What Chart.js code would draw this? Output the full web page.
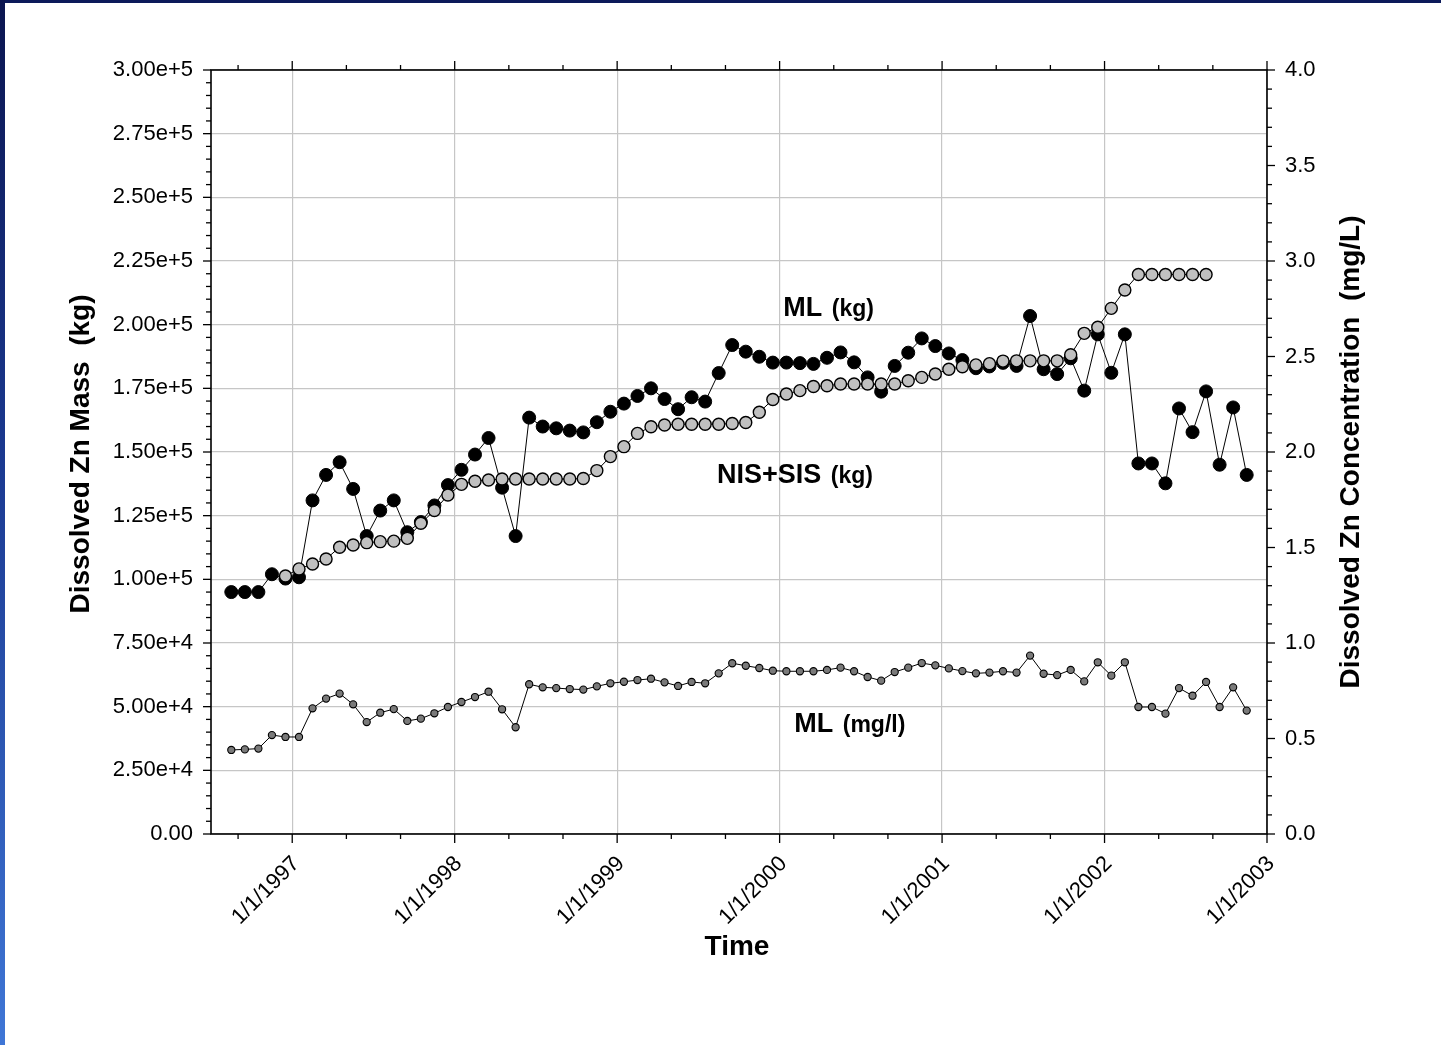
<!DOCTYPE html>
<html>
<head>
<meta charset="utf-8">
<script src="https://cdn.jsdelivr.net/npm/chart.js@4.4.1/dist/chart.umd.min.js"></script>
<style>
  html, body { margin: 0; padding: 0; background: #ffffff; overflow: hidden; }
  #wrap { position: relative; width: 1441px; height: 1045px; background: #ffffff; }
  #topbar { position: absolute; left: 0; top: 0; width: 1441px; height: 3px; background: #0c1a5a; }
  #leftbar { position: absolute; left: 0; top: 0; width: 5px; height: 1045px;
             background: linear-gradient(to bottom, #0b1550 0%, #1b3a92 45%, #3f76d6 100%); }
  #c { position: absolute; left: 0; top: 0; }
</style>
</head>
<body>
<div id="wrap">
  <div id="topbar"></div>
  <div id="leftbar"></div>
  <canvas id="c" width="1441" height="1045"></canvas>
</div>
<script>
// ---------------- DATA ----------------
const months = [
  '1996-08','1996-09','1996-10','1996-11','1996-12',
  '1997-01','1997-02','1997-03','1997-04','1997-05','1997-06','1997-07','1997-08','1997-09','1997-10','1997-11','1997-12',
  '1998-01','1998-02','1998-03','1998-04','1998-05','1998-06','1998-07','1998-08','1998-09','1998-10','1998-11','1998-12',
  '1999-01','1999-02','1999-03','1999-04','1999-05','1999-06','1999-07','1999-08','1999-09','1999-10','1999-11','1999-12',
  '2000-01','2000-02','2000-03','2000-04','2000-05','2000-06','2000-07','2000-08','2000-09','2000-10','2000-11','2000-12',
  '2001-01','2001-02','2001-03','2001-04','2001-05','2001-06','2001-07','2001-08','2001-09','2001-10','2001-11','2001-12',
  '2002-01','2002-02','2002-03','2002-04','2002-05','2002-06','2002-07','2002-08','2002-09','2002-10','2002-11'
];

// ML dissolved Zn mass (kg)
const mlKg = [
  95000, 95000, 95000, 102000, 100300,
  100800, 131000, 141000, 146000, 135500, 117000, 127000, 131000, 118500, 122500, 129000, 137000,
  143000, 149000, 155500, 136000, 117000, 163500, 160000, 159300, 158400, 157700, 161700, 165800,
  169000, 172000, 175000, 170800, 166800, 171500, 169800, 181000, 192000, 189400, 187400, 185100,
  185100, 184900, 184600, 187000, 189100, 185200, 179300, 173700, 183800, 189000, 194600, 191600,
  188700, 186100, 182900, 183600, 185000, 183800, 203400, 182500, 180600, 186800, 174100, 196200,
  181100, 196200, 145500, 145500, 137700, 167100, 157800, 173800, 145000, 167500, 141000
];

// NIS+SIS dissolved Zn mass (kg)  (Dec 1996 - Aug 2002)
const nisSisKg = [
  null, null, null, null, 101300,
  104100, 106000, 108000, 112600, 113500, 114400, 114800, 115000, 116100, 122000, 127000, 133100,
  137300, 138500, 139000, 139400, 139400, 139400, 139400, 139400, 139400, 139600, 142700, 148200,
  152100, 157300, 159900, 160600, 160900, 160900, 160900, 160900, 161200, 161600, 165600, 170600,
  172800, 174100, 175700, 176000, 176700, 176700, 176700, 176700, 176700, 178000, 179300, 180600,
  182500, 183500, 184200, 184700, 185700, 185800, 185800, 185800, 185800, 188200, 196600, 199000,
  206400, 213600, 219700, 219700, 219700, 219700, 219700, 219700, null, null, null
];

// ML dissolved Zn concentration (mg/l)
const mlMgL = [
  0.440, 0.443, 0.447, 0.518, 0.508,
  0.508, 0.658, 0.709, 0.735, 0.679, 0.586, 0.635, 0.654, 0.592, 0.604, 0.632, 0.665,
  0.691, 0.717, 0.745, 0.653, 0.559, 0.784, 0.768, 0.764, 0.759, 0.756, 0.773, 0.789,
  0.797, 0.806, 0.813, 0.794, 0.775, 0.796, 0.789, 0.841, 0.894, 0.881, 0.869, 0.855,
  0.852, 0.852, 0.852, 0.859, 0.871, 0.852, 0.822, 0.803, 0.848, 0.871, 0.895, 0.883,
  0.867, 0.853, 0.841, 0.845, 0.852, 0.845, 0.934, 0.839, 0.832, 0.859, 0.799, 0.899,
  0.829, 0.899, 0.665, 0.665, 0.630, 0.764, 0.724, 0.796, 0.665, 0.768, 0.646
];

// Axis ticks
const yearTicks = [1997, 1998, 1999, 2000, 2001, 2002, 2003];
const xTickLabels = ['1/1/1997', '1/1/1998', '1/1/1999', '1/1/2000', '1/1/2001', '1/1/2002', '1/1/2003'];
const leftTicks = [0, 25000, 50000, 75000, 100000, 125000, 150000, 175000, 200000, 225000, 250000, 275000, 300000];
const leftTickLabels = ['0.00', '2.50e+4', '5.00e+4', '7.50e+4', '1.00e+5', '1.25e+5', '1.50e+5', '1.75e+5',
                        '2.00e+5', '2.25e+5', '2.50e+5', '2.75e+5', '3.00e+5'];
const rightTicks = [0, 0.5, 1.0, 1.5, 2.0, 2.5, 3.0, 3.5, 4.0];
const rightTickLabels = ['0.0', '0.5', '1.0', '1.5', '2.0', '2.5', '3.0', '3.5', '4.0'];

// Text labels in the plot
const seriesLabels = ['ML', 'NIS+SIS', 'ML'];
const seriesUnits = ['(kg)', '(kg)', '(mg/l)'];
const axisTitles = { left: 'Dissolved Zn Mass  (kg)', right: 'Dissolved Zn Concentration  (mg/L)', bottom: 'Time' };

// ---------------- HELPERS ----------------
const FONT = '"Liberation Sans", Arial, Helvetica, sans-serif';
function monthToYear(m) {
  const [y, mo] = m.split('-').map(Number);
  return y + (mo - 1) / 12 + 0.5 / 12;
}
function pts(vals) {
  return months.map((m, i) => ({ x: monthToYear(m), y: vals[i] }));
}

// annotation anchors (data coordinates: x in years, y in kg on left axis)
const annot = [
  { label: 0, x: 2000.023, y: 203300 },
  { label: 1, x: 1999.615, y: 138000 },
  { label: 2, x: 2000.09, y: 40000 }
];

// ---------------- PLUGIN: frame, tick marks, titles, annotations ----------------
const decor = {
  id: 'decor',
  afterDraw(chart) {
    const ctx = chart.ctx;
    const { left, right, top, bottom } = chart.chartArea;
    const sx = chart.scales.x, sy = chart.scales.y, sy2 = chart.scales.y2;
    ctx.save();
    ctx.strokeStyle = '#000';
    ctx.lineWidth = 1.6;
    ctx.lineCap = 'butt';
    ctx.strokeRect(left, top, right - left, bottom - top);
    ctx.lineWidth = 1.3;
    const line = (x1, y1, x2, y2) => { ctx.beginPath(); ctx.moveTo(x1, y1); ctx.lineTo(x2, y2); ctx.stroke(); };
    // left axis ticks: major every 25000, minor every 5000
    for (let v = 0; v <= 300000; v += 5000) {
      const y = sy.getPixelForValue(v);
      const len = (v % 25000 === 0) ? 8 : 5;
      line(left - len, y, left, y);
    }
    // right axis ticks: major every 0.5, minor every 0.1
    for (let k = 0; k <= 40; k++) {
      const y = sy2.getPixelForValue(k / 10);
      const len = (k % 5 === 0) ? 8 : 5;
      line(right, y, right + len, y);
    }
    // bottom/top ticks: major each year, minor every 4 months
    for (let y = 1996; y <= 2003; y++) {
      for (let q = 0; q < 3; q++) {
        const v = y + q / 3;
        if (v < 1996.5 - 1e-9 || v > 2003 + 1e-9) continue;
        const x = sx.getPixelForValue(v);
        const len = q === 0 ? 9 : 5;
        line(x, bottom, x, bottom + len);
        line(x, top, x, top - len);
      }
    }
    // axis titles
    ctx.fillStyle = '#000';
    ctx.font = 'bold 28px ' + FONT;
    ctx.textAlign = 'center';
    ctx.textBaseline = 'middle';
    const cy = (top + bottom) / 2;
    ctx.save(); ctx.translate(81, cy + 2); ctx.rotate(-Math.PI / 2); ctx.fillText(axisTitles.left, 0, 0); ctx.restore();
    ctx.save(); ctx.translate(1351, cy); ctx.rotate(-Math.PI / 2); ctx.fillText(axisTitles.right, 0, 0); ctx.restore();
    ctx.fillText(axisTitles.bottom, (left + right) / 2 - 2, 947);
    // in-plot series labels
    ctx.textAlign = 'left';
    ctx.textBaseline = 'alphabetic';
    annot.forEach(a => {
      const x = sx.getPixelForValue(a.x);
      const y = sy.getPixelForValue(a.y);
      ctx.font = 'bold 27px ' + FONT;
      const name = seriesLabels[a.label];
      ctx.fillText(name, x, y);
      const w = ctx.measureText(name + ' ').width;
      ctx.font = 'bold 23px ' + FONT;
      ctx.fillText(seriesUnits[a.label], x + w + 2, y);
    });
    ctx.restore();
  }
};

// ---------------- CHART ----------------
Chart.defaults.font.family = FONT;
Chart.defaults.color = '#000';

new Chart(document.getElementById('c').getContext('2d'), {
  type: 'line',
  data: {
    datasets: [
      {
        label: 'NIS+SIS (kg)', data: pts(nisSisKg), yAxisID: 'y', order: 1,
        borderColor: '#000', borderWidth: 1, pointRadius: 6, pointBorderWidth: 1.4,
        pointBackgroundColor: '#c0c0c0', pointBorderColor: '#000', spanGaps: false
      },
      {
        label: 'ML (kg)', data: pts(mlKg), yAxisID: 'y', order: 2,
        borderColor: '#000', borderWidth: 1, pointRadius: 6.5, pointBorderWidth: 1,
        pointBackgroundColor: '#000', pointBorderColor: '#000'
      },
      {
        label: 'ML (mg/l)', data: pts(mlMgL), yAxisID: 'y2', order: 3,
        borderColor: '#000', borderWidth: 1, pointRadius: 3.6, pointBorderWidth: 1.1,
        pointBackgroundColor: '#7a7a7a', pointBorderColor: '#000'
      }
    ]
  },
  options: {
    responsive: false,
    animation: false,
    devicePixelRatio: 1,
    layout: { padding: { top: 70, left: 0, right: 0, bottom: 0 } },
    plugins: { legend: { display: false }, tooltip: { enabled: false } },
    elements: { line: { tension: 0 } },
    scales: {
      x: {
        type: 'linear', position: 'bottom', min: 1996.5, max: 2003,
        afterBuildTicks: s => { s.ticks = yearTicks.map(v => ({ value: v })); },
        afterFit: s => { s.height = 211; },
        ticks: {
          autoSkip: false, minRotation: 45, maxRotation: 45, padding: 17, labelOffset: 4,
          font: { size: 22 }, color: '#000',
          callback: (v) => xTickLabels[yearTicks.indexOf(v)]
        },
        grid: { color: '#c6c6c6', lineWidth: 1.2, drawTicks: false },
        border: { display: false }
      },
      y: {
        type: 'linear', position: 'left', min: 0, max: 300000,
        afterBuildTicks: s => { s.ticks = leftTicks.map(v => ({ value: v })); },
        afterFit: s => { s.width = 211; },
        ticks: {
          padding: 18, font: { size: 22 }, color: '#000',
          callback: (v) => leftTickLabels[leftTicks.indexOf(v)]
        },
        grid: { color: '#c6c6c6', lineWidth: 1.2, drawTicks: false },
        border: { display: false }
      },
      y2: {
        type: 'linear', position: 'right', min: 0, max: 4,
        afterBuildTicks: s => { s.ticks = rightTicks.map(v => ({ value: v })); },
        afterFit: s => { s.width = 174; },
        ticks: {
          padding: 18, font: { size: 22 }, color: '#000',
          callback: (v) => rightTickLabels[rightTicks.indexOf(v)]
        },
        grid: { display: false, drawTicks: false },
        border: { display: false }
      }
    }
  },
  plugins: [decor]
});
</script>
</body>
</html>
